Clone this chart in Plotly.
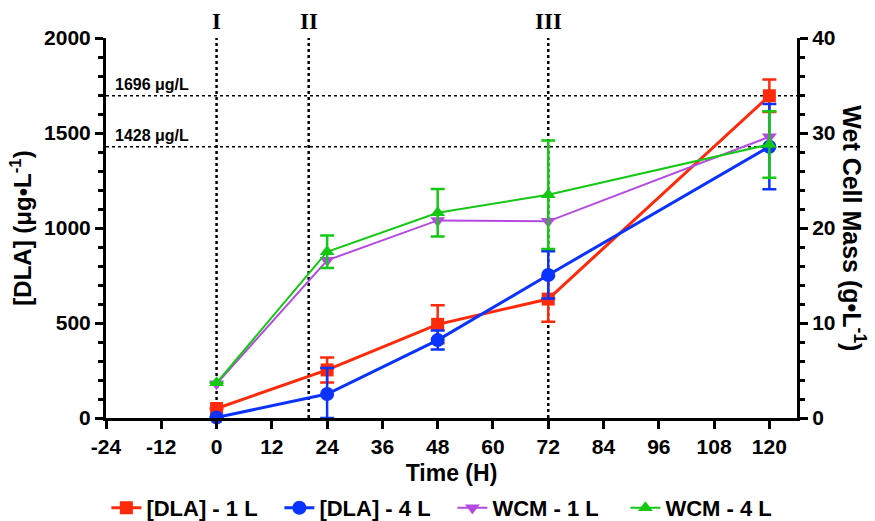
import plotly.graph_objects as go

time_h = [0, 24, 48, 72, 120]
dla_1l = [50, 253, 493, 626, 1696]
dla_1l_err = [0, 66, 100, 120, 85]
dla_4l = [3, 126, 410, 753, 1428]
dla_4l_err_plus = [0, 137, 50, 124, 224]
dla_4l_err_minus = [0, 126, 50, 124, 224]
wcm_1l = [3.6, 16.6, 20.8, 20.7, 29.6]
wcm_4l = [3.7, 17.5, 21.6, 23.5, 28.8]
wcm_4l_err = [0, 1.7, 2.5, 5.7, 3.5]

ref_levels = [1696, 1428]
ref_labels = ["1696 μg/L", "1428 μg/L"]
phase_x = [0, 20, 72]
phase_labels = ["I", "II", "III"]
x_ticks = list(range(-24, 121, 12))

RED = "#FF2A0A"
BLUE = "#0A33FF"
PURPLE = "#B44BE1"
GREEN = "#14C814"
FONT = "Arial, Liberation Sans, sans-serif"

fig = go.Figure()

fig.add_trace(go.Scatter(
    x=time_h, y=wcm_1l, yaxis="y2", name="WCM - 1 L", mode="lines+markers",
    line=dict(color=PURPLE, width=2),
    marker=dict(symbol="triangle-down", size=13, color=PURPLE),
    cliponaxis=False, legendrank=3))
fig.add_trace(go.Scatter(
    x=time_h, y=wcm_4l, yaxis="y2", name="WCM - 4 L", mode="lines+markers",
    line=dict(color=GREEN, width=2),
    marker=dict(symbol="triangle-up", size=13, color=GREEN),
    error_y=dict(type="data", array=wcm_4l_err, color=GREEN, thickness=2.5, width=7),
    cliponaxis=False, legendrank=4))
fig.add_trace(go.Scatter(
    x=time_h, y=dla_1l, name="[DLA] - 1 L", mode="lines+markers",
    line=dict(color=RED, width=3),
    marker=dict(symbol="square", size=13, color=RED),
    error_y=dict(type="data", array=dla_1l_err, color=RED, thickness=2.5, width=7),
    cliponaxis=False, legendrank=1))
fig.add_trace(go.Scatter(
    x=time_h, y=dla_4l, name="[DLA] - 4 L", mode="lines+markers",
    line=dict(color=BLUE, width=3),
    marker=dict(symbol="circle", size=14, color=BLUE),
    error_y=dict(type="data", array=dla_4l_err_plus, arrayminus=dla_4l_err_minus,
                 symmetric=False, color=BLUE, thickness=2.5, width=7),
    cliponaxis=False, legendrank=2))

shapes = []
annotations = []
for lvl, lab in zip(ref_levels, ref_labels):
    shapes.append(dict(type="line", xref="paper", yref="y", x0=0, x1=1, y0=lvl, y1=lvl,
                       line=dict(color="black", width=1.5, dash="dot"), layer="below"))
    annotations.append(dict(xref="paper", yref="y", x=0.01, y=lvl, text="<b>" + lab + "</b>",
                            showarrow=False, xanchor="left", yanchor="bottom", yshift=1,
                            font=dict(family=FONT, size=16, color="black")))
for px, lab in zip(phase_x, phase_labels):
    shapes.append(dict(type="line", xref="x", yref="paper", x0=px, x1=px, y0=0, y1=1.0,
                       line=dict(color="black", width=2.5, dash="dot"), layer="below"))
    annotations.append(dict(xref="x", yref="paper", x=px, y=1.0, yshift=2, text="<b>" + lab + "</b>",
                            showarrow=False, xanchor="center", yanchor="bottom",
                            font=dict(family="Liberation Serif, Times New Roman, serif", size=23, color="black")))

annotations.append(dict(xref="paper", yref="paper", x=1.082, y=0.5,
                        text="<b>Wet Cell Mass (g•L<sup>-1</sup>)</b>", textangle=90,
                        showarrow=False, xanchor="center", yanchor="middle",
                        font=dict(family=FONT, size=25, color="black")))

axis_common = dict(showline=True, linecolor="black", linewidth=3, ticks="outside",
                   ticklen=8, tickwidth=3, tickcolor="black", showgrid=False, zeroline=False,
                   automargin=False,
                   tickfont=dict(family=FONT, size=21, color="black", weight="bold"))

fig.update_layout(
    width=875, height=521,
    margin=dict(l=106, r=78, t=38, b=103),
    paper_bgcolor="white", plot_bgcolor="white",
    font=dict(family=FONT, color="black"),
    xaxis=dict(range=[-24, 126], tickvals=x_ticks, ticktext=[str(v) for v in x_ticks],
               title=dict(text="<b>Time (H)</b>", font=dict(family=FONT, size=23), standoff=8),
               **axis_common),
    yaxis=dict(range=[0, 2000], tickvals=[0, 500, 1000, 1500, 2000],
               minor=dict(dtick=100, ticks="outside", ticklen=5, tickwidth=2.5, tickcolor="black"),
               title=dict(text="<b>[DLA] (μg•L<sup>-1</sup>)</b>", font=dict(family=FONT, size=24), standoff=6),
               **axis_common),
    yaxis2=dict(range=[0, 40], tickvals=[0, 10, 20, 30, 40], overlaying="y", side="right",
                minor=dict(dtick=2, ticks="outside", ticklen=5, tickwidth=2.5, tickcolor="black"),
                **axis_common),
    legend=dict(orientation="h", x=0.517, xref="container", xanchor="center",
                y=0.025, yref="container", yanchor="middle",
                font=dict(family=FONT, size=22, color="black", weight="bold"),
                itemwidth=30, entrywidth=128, entrywidthmode="pixels", traceorder="normal"),
    shapes=shapes, annotations=annotations, showlegend=True,
)

fig.write_html("out.html", config={"displayModeBar": False},
               post_script="document.body.style.margin='0';document.body.style.overflow='hidden';")
